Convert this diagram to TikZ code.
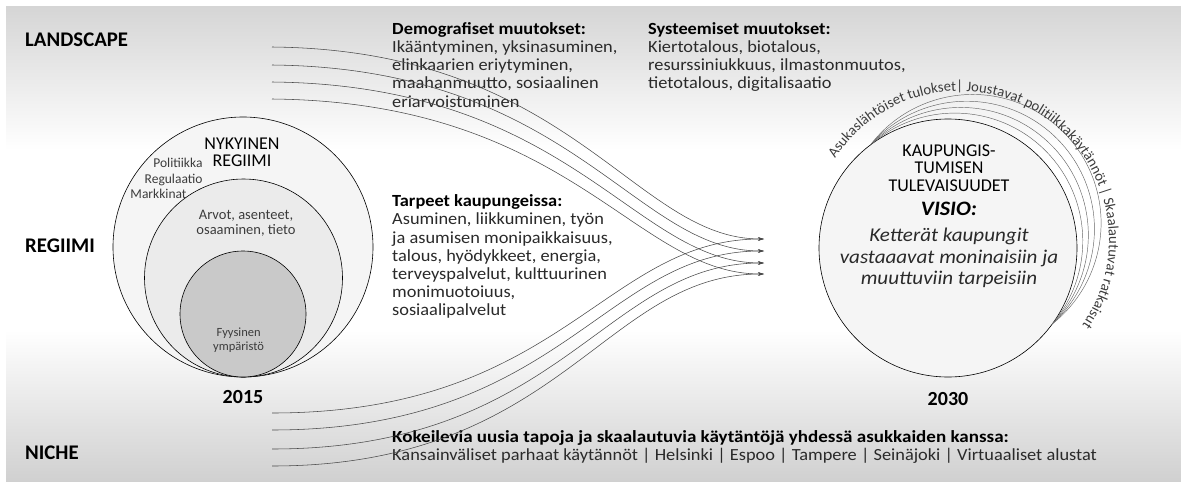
\documentclass[tikz,border=0pt]{standalone}
\usepackage{fontspec}
\setmainfont{Carlito}
\newfontfamily\widefont[FakeStretch=1.08]{Carlito}
\newfontfamily\widerfont[FakeStretch=1.12]{Carlito}
\usetikzlibrary{arrows.meta,decorations.text}
\definecolor{bgtop}{HTML}{D5D5D5}
\definecolor{bgbot}{HTML}{D0D0D0}
\definecolor{ink}{HTML}{2A2A2A}
\definecolor{softink}{HTML}{3C3C3C}
\definecolor{ringA}{HTML}{F5F5F5}
\definecolor{ringB}{HTML}{EBEBEB}
\definecolor{ringC}{HTML}{C9C9C9}
\definecolor{flowc}{HTML}{4A4A4A}
\newcommand\arcfont{\fontsize{14.6}{16}\selectfont}
\begin{document}
\begin{tikzpicture}[x=1pt,y=1pt,
  lab/.style={font=\bfseries\fontsize{20.8}{24}\selectfont, anchor=base west, inner sep=0, text=black},
  yearlab/.style={font=\bfseries\fontsize{20}{24}\selectfont, anchor=base, inner sep=0, text=black},
  block/.style={font=\widefont\fontsize{17}{18.2}\selectfont, align=left, anchor=base west, inner sep=0, text=ink},
  ring/.style={circle, draw=black, line width=0.6pt, inner sep=0},
  small/.style={font=\fontsize{13.5}{15.5}\selectfont, inner sep=0, text=softink},
  caps/.style={font=\fontsize{18}{17.4}\selectfont, align=center, anchor=base, inner sep=0, text=black},
  flow/.style={draw=flowc, line width=0.55pt},
  tipped/.style={-{Stealth[length=6pt,width=3.6pt]}},
  orbit/.style={draw=black!60, line width=0.45pt}
]
\useasboundingbox (0,0) rectangle (1181,-482);
\fill[white] (0,0) rectangle (1181,-482);
\shade[top color=bgtop, bottom color=white] (6,-6) rectangle (1181,-150);
\shade[top color=white, bottom color=bgbot] (6,-330) rectangle (1181,-482);

% side labels
\node[lab] (landscape) at (25,-46.7) {LANDSCAPE};
\node[lab] (regiimi) at (25,-252.7) {REGIIMI};
\node[lab] (niche) at (25,-459) {NICHE};

% left circles (2015)
\node[ring, fill=ringA, minimum size=260] (outerring) at (243,-247) {};
\node[ring, fill=ringB, minimum size=198] (midring) at (243.5,-278) {};
\node[ring, fill=ringC, minimum size=126] (innerring) at (243,-314) {};
% multi-line nodes: base anchor = last line
\node[caps] (nykyinen) at (242,-166.7) {NYKYINEN\\REGIIMI};
\node[small, anchor=base east] (politiikka) at (202.7,-167.3) {Politiikka};
\node[small, anchor=base east] (regulaatio) at (202.7,-183.3) {Regulaatio};
\node[small, anchor=base east] (markkinat) at (186.7,-198.3) {Markkinat};
\node[small, font=\fontsize{14.5}{15}\selectfont, align=center, anchor=base] (arvot) at (246,-234) {Arvot, asenteet,\\osaaminen, tieto};
\node[small, font=\fontsize{12.5}{14.7}\selectfont, align=center, anchor=base] (fyysinen) at (238.6,-350.7) {Fyysinen\\ympäristö};
\node[yearlab] (y2015) at (243,-403) {2015};

% right circle (2030)
\node[ring, fill=ringA, minimum size=258] (future) at (948,-248) {};
\draw[orbit] (954.87,-241.01) ++(131.34:127.92) arc[start angle=131.34, end angle=-40.34, radius=127.92];
\draw[orbit] (960.76,-235.02) ++(135.11:127.58) arc[start angle=135.11, end angle=-44.11, radius=127.58];
\draw[orbit] (966.64,-229.03) ++(138.88:127.80) arc[start angle=138.88, end angle=-47.88, radius=127.80];
\draw[orbit] (972.53,-223.03) ++(142.62:128.57) arc[start angle=142.62, end angle=-51.62, radius=128.57];
\path[decorate, decoration={text along path, text color=softink, text align=left,
  text={|\arcfont|Asukaslähtöiset tulokset{\textbar} Joustavat politiikkakäytännöt {\textbar} Skaalautuvat ratkaisut}}]
  (835.04,-158.85) arc[start angle=147, end angle=-75, radius=149];
\node[caps] (kaupungis) at (949,-191) {KAUPUNGIS-\\TUMISEN\\TULEVAISUUDET};
\node[font=\widefont\bfseries\itshape\fontsize{20.5}{24}\selectfont, anchor=base, inner sep=0] (visio) at (949,-215.5) {VISIO:};
\node[font=\widefont\itshape\fontsize{19.5}{21.4}\selectfont, align=center, anchor=base, inner sep=0, text=ink] (visiotext) at (949,-284.5) {Ketterät kaupungit\\vastaaavat moninaisiin ja\\muuttuviin tarpeisiin};
\node[yearlab] (y2030) at (948,-405) {2030};

% text blocks (anchored on the baseline of their last line)
\node[block] (demog) at (392,-107.1) {{\color{black}\bfseries Demografiset muutokset:}\\Ikääntyminen, yksinasuminen,\\elinkaarien eriytyminen,\\maahanmuutto, sosiaalinen\\eriarvoistuminen};
\node[block] (systeem) at (648,-88.9) {{\color{black}\bfseries Systeemiset muutokset:}\\Kiertotalous, biotalous,\\resurssiniukkuus, ilmastonmuutos,\\tietotalous, digitalisaatio};
\node[block] (tarpeet) at (392,-315.9) {{\color{black}\bfseries Tarpeet kaupungeissa:}\\Asuminen, liikkuminen, työn\\ja asumisen monipaikkaisuus,\\talous, hyödykkeet, energia,\\terveyspalvelut, kulttuurinen\\monimuotoiuus,\\sosiaalipalvelut};
\node[block, font=\widefont\fontsize{17}{17.8}\selectfont] (kokeilu) at (392,-460.1) {{\color{black}\widerfont\bfseries Kokeilevia uusia tapoja ja skaalautuvia käytäntöjä yhdessä asukkaiden kanssa:}\\Kansainväliset parhaat käytännöt | Helsinki | Espoo | Tampere | Seinäjoki | Virtuaaliset alustat};

% flow curves
\coordinate (L1) at (272,-47);
\coordinate (L2) at (272,-65);
\coordinate (L3) at (272,-82);
\coordinate (L4) at (272,-99);
\coordinate (N1) at (272,-413);
\coordinate (N2) at (272,-430);
\coordinate (N3) at (272,-449);
\coordinate (N4) at (272,-466);
\coordinate (A1) at (764,-239);
\coordinate (A2) at (764,-251);
\coordinate (A3) at (764,-263);
\coordinate (A4) at (764,-274);
\foreach \s/\e in {L1/A1, L2/A2, L3/A3, L4/A4}
  \draw[flow, tipped] (\s) .. controls +(300,-3) and +(-130,0) .. (\e);
\foreach \s/\e in {N1/A1, N2/A2, N3/A3, N4/A4}
  \draw[flow, tipped] (\s) .. controls +(290,0) and +(-160,0) .. (\e);
\end{tikzpicture}
\end{document}
